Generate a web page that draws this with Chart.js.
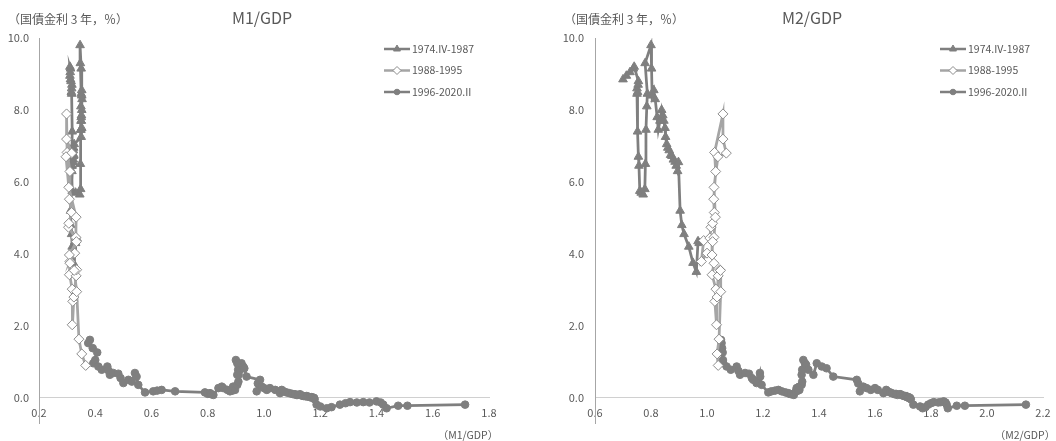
<!DOCTYPE html>
<html>
<head>
<meta charset="utf-8">
<script src="https://cdn.jsdelivr.net/npm/chart.js@4.4.0/dist/chart.umd.min.js"></script>
<style>
  body { margin: 0; background: #fff; width: 1056px; height: 441px; overflow: hidden; }
  .panel { position: absolute; top: 0; width: 528px; height: 441px; }
</style>
</head>
<body>
<div class="panel" style="left:0"><canvas id="chart-m1" width="528" height="441"></canvas></div>
<div class="panel" style="left:528px"><canvas id="chart-m2" width="528" height="441"></canvas></div>
<script>
// ===== DATA =====
const seriesNames = ['1974.IV-1987', '1988-1995', '1996-2020.II'];

// 3-year JGB yield (%), quarterly
const rate1 = [8.85, 8.95, 9.05, 9.15, 9.20,  8.80, 8.60, 8.50, 8.70,  8.45, 7.40, 6.70, 6.45,
  5.75, 5.70, 5.65, 5.80,  6.50, 7.45, 8.10, 8.45,  9.30, 9.80, 9.15, 8.40,
  8.55, 8.30, 7.80, 7.45,  7.70, 8.00, 7.85, 7.70,  7.50, 7.25, 7.05, 6.95,
  6.88, 6.75, 6.72, 6.62,  6.56, 6.45, 6.30, 6.55,  5.20, 4.80, 4.55, 4.20,
  3.75, 3.50, 4.35, 4.30];
const rate2 = [4.02, 3.79, 4.37, 4.44,  4.74, 4.85, 5.15, 5.52,  6.29, 6.82, 7.89, 7.19,
  6.80, 6.70, 5.85, 5.02,  4.46, 4.34, 3.97, 3.74,  3.42, 3.02, 2.68, 2.03,
  2.80, 3.39, 3.56, 3.54,  2.95, 1.63, 1.22, 0.90];
const rate3 = [1.61, 1.52, 1.38, 1.26,  0.96, 1.05, 0.87, 0.78,  0.87, 0.75, 0.64, 0.69,
  0.67, 0.55, 0.41, 0.50,  0.45, 0.69, 0.59, 0.36,
  0.15, 0.18, 0.20, 0.22,  0.18, 0.15, 0.11, 0.13,  0.10, 0.08, 0.27, 0.31,
  0.27, 0.18, 0.22, 0.31,  0.20, 0.22, 0.36, 0.45,
  0.64, 0.78, 1.05, 0.96,  0.92, 0.78, 0.64, 0.96,  0.87, 0.82, 0.59, 0.50,
  0.40, 0.18, 0.31, 0.27,  0.22, 0.27, 0.22, 0.13,  0.22, 0.18, 0.15, 0.13,
  0.10, 0.11, 0.08, 0.10,  0.10, 0.08, 0.06, 0.05,  0.04, 0.05, 0.03, 0.02,
  0.01, 0.02, -0.01, 0.00,
  -0.04, -0.19, -0.24, -0.29,  -0.26, -0.19, -0.15, -0.12,  -0.13, -0.12, -0.13, -0.10,
  -0.13, -0.19, -0.29, -0.22,  -0.22, -0.19];

// M1/GDP
const m1Ratio1 = [0.312, 0.310, 0.311, 0.312, 0.310,  0.314, 0.316, 0.315, 0.317,  0.316, 0.318, 0.317, 0.316,
  0.318, 0.330, 0.345, 0.348,  0.347, 0.348, 0.349, 0.350,  0.347, 0.346, 0.350, 0.352,
  0.352, 0.353, 0.350, 0.349,  0.350, 0.352, 0.351, 0.350,  0.352, 0.350, 0.325, 0.323,
  0.322, 0.324, 0.323, 0.322,  0.320, 0.318, 0.317, 0.320,  0.312, 0.313, 0.316, 0.318,
  0.322, 0.325, 0.328, 0.330];
const m1Ratio2 = [0.327, 0.310, 0.333, 0.330,  0.305, 0.306, 0.316, 0.308,  0.310, 0.300, 0.298, 0.298,
  0.316, 0.296, 0.306, 0.332,  0.331, 0.333, 0.308, 0.310,  0.308, 0.318, 0.320, 0.318,
  0.324, 0.332, 0.334, 0.325,  0.334, 0.342, 0.352, 0.366];
const m1Ratio3 = [0.381, 0.375, 0.391, 0.407,  0.393, 0.400, 0.411, 0.423,  0.443, 0.448, 0.452, 0.464,
  0.482, 0.490, 0.500, 0.518,  0.530, 0.541, 0.547, 0.553,
  0.577, 0.606, 0.620, 0.636,  0.684, 0.790, 0.800, 0.808,  0.812, 0.820, 0.838, 0.850,
  0.855, 0.879, 0.870, 0.890,  0.888, 0.897, 0.905, 0.909,
  0.905, 0.908, 0.900, 0.905,  0.909, 0.915, 0.910, 0.920,  0.926, 0.930, 0.938, 0.986,
  0.978, 0.974, 0.992, 1.000,  1.010, 1.021, 1.040, 1.057,  1.063, 1.070, 1.080, 1.090,
  1.104, 1.100, 1.115, 1.110,  1.128, 1.120, 1.135, 1.140,  1.148, 1.152, 1.158, 1.163,
  1.168, 1.170, 1.175, 1.178,
  1.180, 1.187, 1.200, 1.223,  1.240, 1.270, 1.290, 1.306,  1.330, 1.353, 1.375, 1.400,
  1.415, 1.424, 1.436, 1.477,  1.510, 1.715];

// M2/GDP
const m2Ratio1 = [0.700, 0.712, 0.725, 0.737, 0.740,  0.755, 0.750, 0.752, 0.754,  0.750, 0.752, 0.755, 0.757,
  0.760, 0.765, 0.772, 0.778,  0.780, 0.782, 0.785, 0.787,  0.779, 0.800, 0.802, 0.804,
  0.810, 0.815, 0.822, 0.826,  0.832, 0.838, 0.842, 0.846,  0.850, 0.852, 0.856, 0.860,
  0.865, 0.870, 0.875, 0.880,  0.886, 0.890, 0.895, 0.898,  0.904, 0.910, 0.918, 0.935,
  0.950, 0.962, 0.968, 0.972];
const m2Ratio2 = [1.000, 0.980, 0.988, 1.010,  1.014, 1.020, 1.026, 1.024,  1.031, 1.027, 1.057, 1.057,
  1.069, 1.039, 1.025, 1.030,  1.025, 1.020, 1.018, 1.025,  1.018, 1.032, 1.028, 1.034,
  1.036, 1.040, 1.046, 1.048,  1.049, 1.043, 1.036, 1.040];
const m2Ratio3 = [1.050, 1.052, 1.054, 1.056,  1.058, 1.057, 1.070, 1.085,  1.106, 1.112, 1.118, 1.136,
  1.150, 1.160, 1.177, 1.165,  1.180, 1.189, 1.190, 1.195,
  1.219, 1.230, 1.243, 1.255,  1.267, 1.280, 1.296, 1.290,  1.300, 1.310, 1.320, 1.330,
  1.325, 1.318, 1.320, 1.330,  1.325, 1.330, 1.338, 1.340,
  1.338, 1.340, 1.344, 1.350,  1.354, 1.362, 1.380, 1.392,  1.410, 1.427, 1.451, 1.535,
  1.540, 1.546, 1.558, 1.570,  1.585, 1.600, 1.610, 1.630,  1.640, 1.645, 1.654, 1.660,
  1.670, 1.675, 1.680, 1.689,  1.690, 1.695, 1.700, 1.705,  1.708, 1.710, 1.713, 1.715,
  1.718, 1.720, 1.722, 1.725,
  1.728, 1.737, 1.761, 1.770,  1.780, 1.790, 1.800, 1.810,  1.826, 1.835, 1.850, 1.845,
  1.852, 1.856, 1.860, 1.892,  1.921, 2.139];

const yTicks = [0, 2, 4, 6, 8, 10];
const xTicksM1 = [0.2, 0.4, 0.6, 0.8, 1.0, 1.2, 1.4, 1.6, 1.8];
const xTicksM2 = [0.6, 0.8, 1.0, 1.2, 1.4, 1.6, 1.8, 2.0, 2.2];

// ===== STYLE =====
const FONT = '"Noto Sans CJK JP", "Noto Sans", sans-serif';
const TEXT = '#595959';
const looks = [
  { pointStyle: 'triangle', pointRadius: 5, pointBackgroundColor: '#7f7f7f', pointBorderColor: '#7f7f7f', borderColor: '#7f7f7f', order: 2 },
  { pointStyle: 'rectRot', pointRadius: 5, pointBackgroundColor: '#ffffff', pointBorderColor: '#8c8c8c', borderColor: '#a5a5a5', order: 0 },
  { pointStyle: 'circle', pointRadius: 3.8, pointBackgroundColor: '#7f7f7f', pointBorderColor: '#7f7f7f', borderColor: '#7f7f7f', order: 1 },
];

const toPoints = (xs, ys) => xs.map((x, i) => ({ x, y: ys[i] }));

// legend with a line segment and the marker in its middle
const miniLegend = {
  id: 'miniLegend',
  afterDraw(chart, args, o) {
    const ctx = chart.ctx;
    ctx.save();
    chart.data.datasets.forEach((ds, i) => {
      const y = o.top + i * o.gap;
      ctx.strokeStyle = ds.borderColor;
      ctx.lineWidth = 2.5;
      ctx.beginPath();
      ctx.moveTo(o.left, y);
      ctx.lineTo(o.left + o.len, y);
      ctx.stroke();
      ctx.fillStyle = ds.pointBackgroundColor;
      ctx.strokeStyle = ds.pointBorderColor;
      ctx.lineWidth = 1;
      Chart.helpers.drawPoint(ctx, { pointStyle: ds.pointStyle, radius: ds.pointRadius - 1, borderWidth: 1, rotation: 0 }, o.left + o.len / 2, y);
      ctx.fillStyle = TEXT;
      ctx.font = `10.5px ${FONT}`;
      ctx.textAlign = 'left';
      ctx.textBaseline = 'middle';
      ctx.fillText(ds.label, o.left + o.len + 2, y);
    });
    ctx.restore();
  }
};

// title and axis captions
const panelText = {
  id: 'panelText',
  afterDraw(chart, args, o) {
    const ctx = chart.ctx;
    ctx.save();
    ctx.fillStyle = TEXT;
    ctx.textBaseline = 'middle';
    ctx.font = `16px ${FONT}`;
    ctx.textAlign = 'center';
    ctx.fillText(o.title, o.titleX, 18);
    ctx.font = `12px ${FONT}`;
    ctx.textAlign = 'left';
    ctx.fillText('（国債金利 3 年，％）', o.yLabelX, 19);
    ctx.font = `10.5px ${FONT}`;
    ctx.textAlign = 'center';
    ctx.fillText(o.xLabel, o.xLabelX, 435);
    ctx.restore();
  }
};

function buildChart(id, xSeries, p) {
  const rates = [rate1, rate2, rate3];
  const datasets = seriesNames.map((name, i) => ({
    label: name,
    data: toPoints(xSeries[i], rates[i]),
    showLine: true,
    borderWidth: 2.75,
    pointBorderWidth: 1,
    ...looks[i]
  }));
  return new Chart(document.getElementById(id), {
    type: 'scatter',
    data: { datasets },
    plugins: [miniLegend, panelText],
    options: {
      responsive: false,
      animation: false,
      devicePixelRatio: 1,
      layout: { padding: { top: 38, right: p.padRight, bottom: 18, left: 0 } },
      scales: {
        x: {
          type: 'linear',
          min: p.xTicks[0],
          max: p.xTicks[p.xTicks.length - 1],
          position: { y: 0 },
          afterBuildTicks: s => { s.ticks = p.xTicks.map(v => ({ value: v })); },
          afterFit: s => { s.paddingLeft = 0; s.paddingRight = 0; },
          ticks: { callback: v => v.toFixed(1), color: TEXT, font: { family: FONT, size: 11 }, padding: 8, maxRotation: 0, autoSkip: false },
          grid: { color: 'rgba(0,0,0,0)', drawTicks: false },
          border: { color: '#d0d0d0', width: 1 }
        },
        y: {
          min: -0.7,
          max: 10,
          afterBuildTicks: s => { s.ticks = yTicks.map(v => ({ value: v })); },
          afterFit: s => { s.width = p.axisWidth; s.paddingTop = 0; s.paddingBottom = 0; },
          ticks: { callback: v => v.toFixed(1), color: TEXT, font: { family: FONT, size: 11 }, padding: p.tickPad },
          grid: { color: 'rgba(0,0,0,0)', drawTicks: false },
          border: { color: '#a6a6a6', width: 1 }
        }
      },
      plugins: {
        legend: { display: false },
        tooltip: { enabled: false },
        miniLegend: { left: p.legendLeft, len: 26, top: 49, gap: 21.5 },
        panelText: { title: p.title, titleX: p.titleX, yLabelX: p.yLabelX, xLabel: p.xLabel, xLabelX: p.xLabelX }
      }
    }
  });
}

buildChart('chart-m1', [m1Ratio1, m1Ratio2, m1Ratio3], {
  xTicks: xTicksM1, axisWidth: 39, padRight: 39, tickPad: 10, legendLeft: 384,
  title: 'M1/GDP', titleX: 262, yLabelX: 8, xLabel: '（M1/GDP）', xLabelX: 468
});
buildChart('chart-m2', [m2Ratio1, m2Ratio2, m2Ratio3], {
  xTicks: xTicksM2, axisWidth: 67, padRight: 13, tickPad: 11, legendLeft: 412,
  title: 'M2/GDP', titleX: 284, yLabelX: 36, xLabel: '（M2/GDP）', xLabelX: 497
});
</script>
</body>
</html>
